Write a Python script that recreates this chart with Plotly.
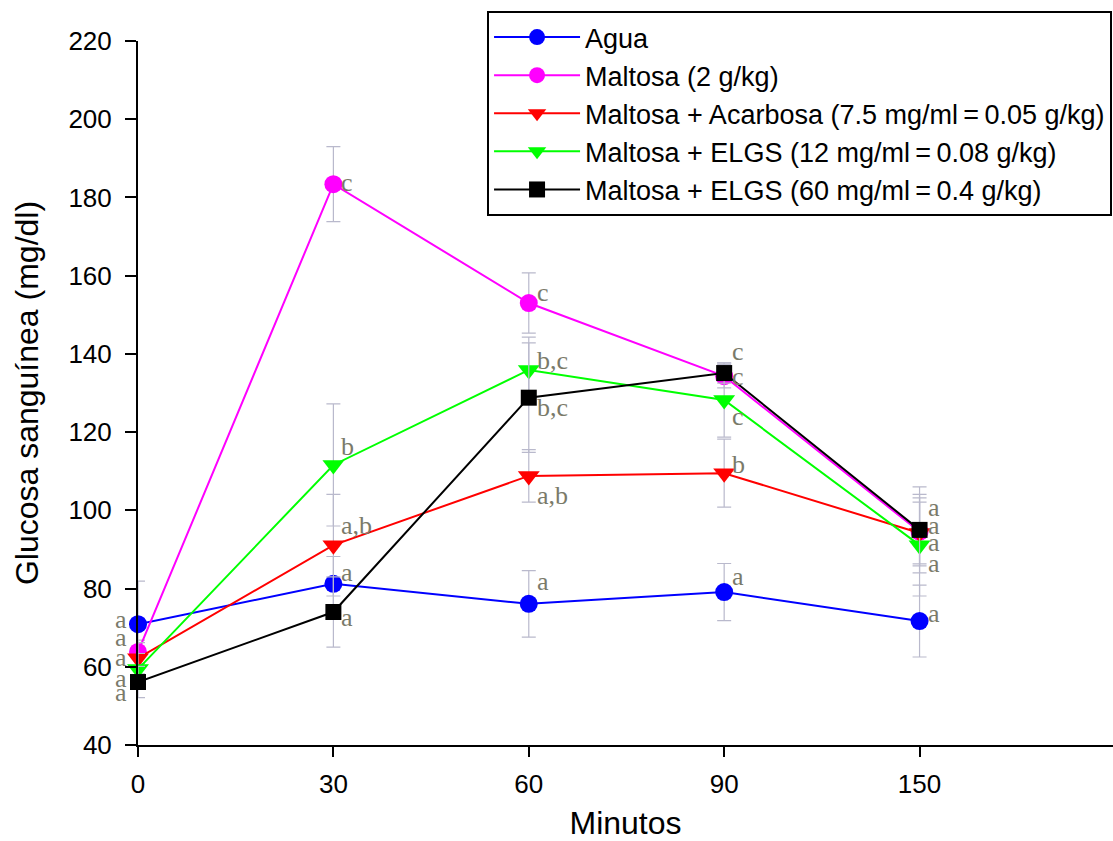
import plotly.graph_objects as go

minutes = ["0", "30", "60", "90", "150"]

series_names = [
    "Agua",
    "Maltosa (2 g/kg)",
    "Maltosa + Acarbosa (7.5 mg/ml\u2009=\u20090.05 g/kg)",
    "Maltosa + ELGS (12 mg/ml\u2009=\u20090.08 g/kg)",
    "Maltosa + ELGS (60 mg/ml\u2009=\u20090.4 g/kg)",
]

agua = [70.9, 81.2, 76.1, 79.1, 71.7]
maltosa = [63.8, 183.4, 153.0, 134.3, 94.5]
acarbosa = [62.2, 91.1, 108.8, 109.5, 94.2]
elgs12 = [59.4, 111.6, 135.9, 128.2, 91.1]
elgs60 = [56.1, 74.0, 128.8, 135.1, 95.0]

agua_err = [11.0, 7.0, 8.5, 7.3, 9.2]
maltosa_err = [3.0, 9.6, 7.7, 3.0, 8.7]
acarbosa_err = [4.0, 13.0, 6.7, 8.7, 7.9]
elgs12_err = [4.0, 15.6, 8.4, 9.5, 13.0]
elgs60_err = [4.0, 9.0, 14.0, 2.6, 11.0]

agua_letters = ["a", "a", "a", "a", "a"]
maltosa_letters = ["a", "c", "c", "c", "a"]
acarbosa_letters = ["a", "a,b", "a,b", "b", "a"]
elgs12_letters = ["a", "b", "b,c", "c", "a"]
elgs60_letters = ["a", "a", "b,c", "c", "a"]

# style: vertical offsets (in data units) of the letters relative to the marker
agua_dy = [1.1, 2.8, 5.6, 3.9, 1.8]
maltosa_dy = [3.6, 0.5, 2.6, -0.2, 1.7]
acarbosa_dy = [0.3, 5.1, -4.9, 2.1, -2.3]
elgs12_dy = [-2.3, 4.6, 2.5, -4.3, -4.6]
elgs60_dy = [-2.8, -1.5, -2.6, 5.4, 5.6]

values = [agua, maltosa, acarbosa, elgs12, elgs60]
errors = [agua_err, maltosa_err, acarbosa_err, elgs12_err, elgs60_err]
letters = [agua_letters, maltosa_letters, acarbosa_letters, elgs12_letters, elgs60_letters]
dys = [agua_dy, maltosa_dy, acarbosa_dy, elgs12_dy, elgs60_dy]
colors = ["#0000ff", "#ff00ff", "#ff0000", "#00ff00", "#000000"]
symbols = ["circle", "circle", "triangle-down", "triangle-down", "square"]
sizes = [18, 18, 19, 19, 16]

xs = list(range(len(minutes)))

fig = go.Figure()
for name, v, e, c, s, sz in zip(series_names, values, errors, colors, symbols, sizes):
    fig.add_trace(go.Scatter(
        x=xs, y=v, name=name, mode="lines+markers",
        line=dict(color=c, width=2),
        marker=dict(color=c, symbol=s, size=sz),
        error_y=dict(type="data", array=e, visible=True, color="#b9b9cc", thickness=1.2, width=7),
        cliponaxis=False,
    ))

annotations = []
for v, lt, dy in zip(values, letters, dys):
    for i, (val, l, d) in enumerate(zip(v, lt, dy)):
        annotations.append(dict(
            x=xs[i], y=val + d, xref="x", yref="y", text=l, showarrow=False,
            xanchor="right" if i == 0 else "left",
            xshift=-9 if i == 0 else 6,
            font=dict(family="Liberation Serif, Times New Roman, serif", size=26, color="#7a7a6a"),
        ))

fig.update_layout(
    width=1113, height=841,
    margin=dict(l=138, r=0, t=41, b=96),
    paper_bgcolor="white", plot_bgcolor="white",
    font=dict(family="Liberation Sans, Arial, sans-serif", color="black"),
    annotations=annotations,
    showlegend=True,
    legend=dict(
        x=0.358, y=1.0426, xanchor="left", yanchor="top",
        bordercolor="black", borderwidth=2, bgcolor="white",
        font=dict(size=27, family="Liberation Sans, Arial, sans-serif"),
        tracegroupgap=0, itemwidth=86,
    ),
    xaxis=dict(
        range=[0, 4.99], tickmode="array", tickvals=xs, ticktext=minutes,
        showgrid=False, zeroline=False, showline=True, linecolor="black", linewidth=2,
        ticks="outside", ticklen=10, tickwidth=2, tickcolor="black",
        tickfont=dict(size=26), ticklabelstandoff=5,
        title=dict(text="Minutos", font=dict(size=32), standoff=17),
    ),
    yaxis=dict(
        range=[40, 220], tickmode="linear", tick0=40, dtick=20,
        showgrid=False, zeroline=False, showline=True, linecolor="black", linewidth=2,
        ticks="outside", ticklen=11, tickwidth=2, tickcolor="black",
        tickfont=dict(size=26), ticklabelstandoff=8,
        title=dict(text="Glucosa sanguínea (mg/dl)", font=dict(size=32), standoff=20),
    ),
)

fig.write_html("out.html")
